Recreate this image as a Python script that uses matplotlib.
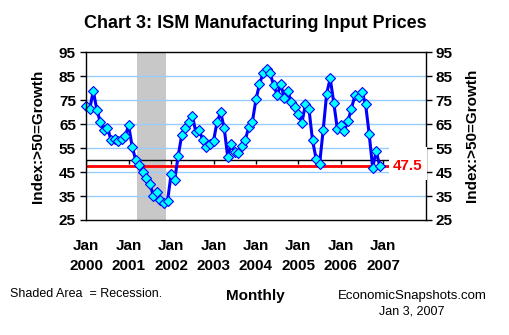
import numpy as np
import matplotlib
matplotlib.use("Agg")
import matplotlib.pyplot as plt
from matplotlib.patches import Rectangle

plt.rcParams['font.family'] = ['Liberation Sans', 'DejaVu Sans']

# Monthly ISM prices index, Jan 2000 - Dec 2006
prices = [72.5, 71.4, 78.8, 71.1, 65.8, 62.7, 63.6, 58.4, 59.0, 58.0, 58.7, 60.0,   # 2000
          64.5, 55.6, 50.0, 48.1, 45.2, 42.7, 40.1, 35.1, 36.8, 33.5, 32.3, 33.0,   # 2001
          44.0, 41.5, 51.7, 60.3, 63.3, 65.8, 68.6, 61.7, 62.4, 58.2, 55.4, 56.6,   # 2002
          58.0, 65.9, 70.0, 63.6, 51.5, 56.6, 53.3, 52.9, 55.8, 58.5, 64.0, 66.1,   # 2003
          75.3, 81.7, 86.2, 87.9, 86.2, 81.3, 77.1, 81.7, 76.1, 78.8, 74.2, 72.0,   # 2004
          69.1, 65.6, 73.3, 71.2, 58.2, 50.6, 48.5, 62.4, 77.8, 84.1, 74.0, 63.1,   # 2005
          64.8, 62.3, 66.2, 71.5, 77.1, 76.4, 78.5, 73.3, 61.1, 46.8, 53.8, 47.5]   # 2006
latest_value = 47.5
recession_months = (14, 22)          # Mar 2001 .. Nov 2001 (month index)
year_labels = ["2000", "2001", "2002", "2003", "2004", "2005", "2006", "2007"]
y_ticks = [25, 35, 45, 55, 65, 75, 85, 95]

x = np.arange(len(prices))

fig = plt.figure(figsize=(5.10, 3.35), dpi=100)
ax = fig.add_axes([0.168, 0.3433, 0.6667, 0.5006])

ax.set_xlim(-0.15, 96)
ax.set_ylim(25, 95)

# recession shading
ax.axvspan(recession_months[0] + 0.5, recession_months[1] + 0.5,
           color='#C8C8C8', zorder=1, lw=0)

# grid
for g in y_ticks[1:-1]:
    ax.axhline(g, color='#99CCFF', lw=1.0, zorder=1.5)

# 50 axis line with ticks
ax.axhline(50, color='black', lw=1.0, zorder=2)
tick_pos = [12 * i for i in range(len(year_labels))]
ax.vlines(tick_pos, 50 - 1.7, 50, color='black', lw=1.0, zorder=2)

# latest value reference line
ax.axhline(latest_value, color='#FF0000', lw=2.0, zorder=2.2)

# series
ax.plot(x, prices, color='#0000FF', lw=2.2, marker='D', markersize=5.6,
        markerfacecolor='#00FFFF', markeredgecolor='#0000FF', markeredgewidth=0.8,
        zorder=4, clip_on=False)

# white box with label
ax.add_patch(Rectangle((85.6, 41.6), 10.9, 13.7, facecolor='white',
                       edgecolor='none', zorder=5, clip_on=False))
ax.text(86.6, latest_value, f"{latest_value}", color='#FF0000', fontsize=11,
        fontweight='bold', va='center', ha='left', zorder=6)

# spines
for s in ax.spines.values():
    s.set_linewidth(1.0)
    s.set_color('black')
ax.spines['left'].set_zorder(4.5)
ax.spines['right'].set_zorder(4.5)

ax.set_yticks(y_ticks)
ax.set_yticklabels([str(t) for t in y_ticks], fontsize=11, fontweight='bold')
ax.tick_params(axis='y', which='both', direction='out', length=4, width=1,
               left=True, right=True, labelleft=True, labelright=True, pad=3)

ax.set_xticks(tick_pos)
ax.set_xticklabels([f"Jan\n{y}" for y in year_labels], fontsize=11,
                   fontweight='bold', linespacing=1.55)
ax.tick_params(axis='x', length=0, pad=13.5)

ax.set_ylabel("Index:>50=Growth", fontsize=11, fontweight='bold', labelpad=10)
fig.text(0.925, 0.597, "Index:>50=Growth", fontsize=11, fontweight='bold',
         rotation=90, ha='center', va='center')

fig.text(0.5, 0.931, "Chart 3: ISM Manufacturing Input Prices", fontsize=13,
         fontweight='bold', ha='center', va='center')
fig.text(0.02, 0.122, "Shaded Area  = Recession.", fontsize=9, ha='left', va='center')
fig.text(0.5, 0.117, "Monthly", fontsize=11, fontweight='bold', ha='center', va='center')
fig.text(0.809, 0.116, "EconomicSnapshots.com", fontsize=9.5, ha='center', va='center')
fig.text(0.807, 0.069, "Jan 3, 2007", fontsize=9, ha='center', va='center')

fig.savefig("out.png", dpi=100)
